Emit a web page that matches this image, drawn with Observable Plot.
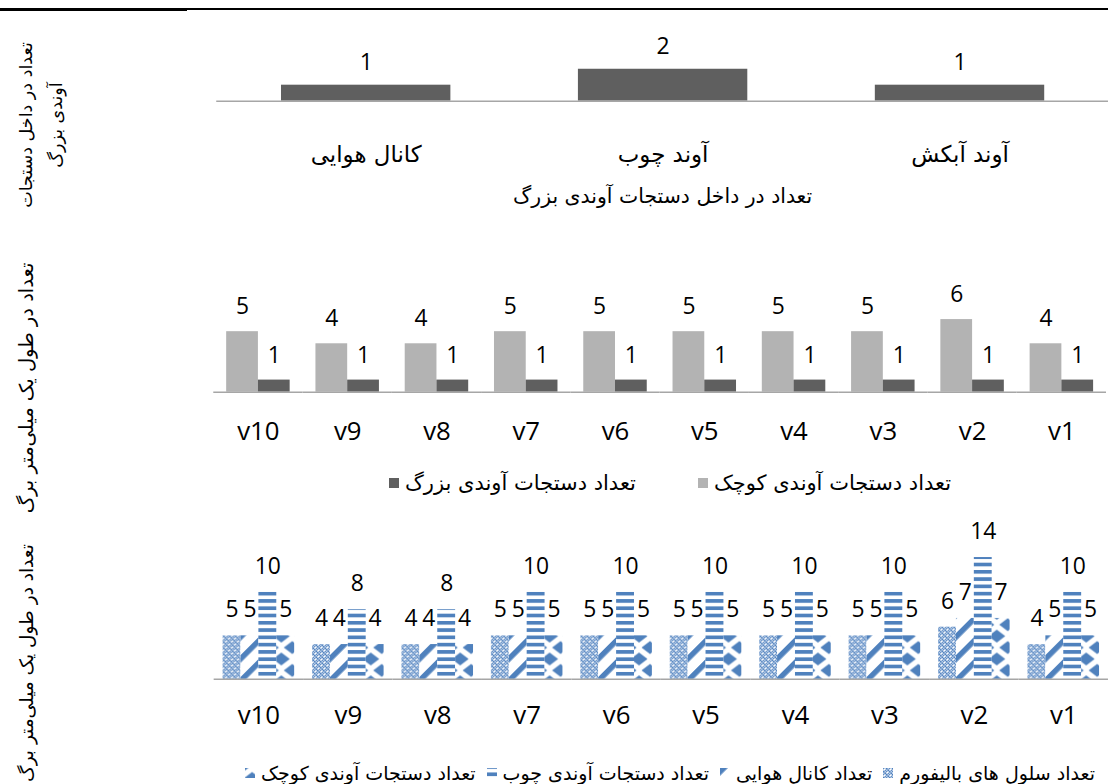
<!DOCTYPE html>
<html><head><meta charset="utf-8">
<script src="https://cdn.jsdelivr.net/npm/d3@7"></script>
<script src="https://cdn.jsdelivr.net/npm/@observablehq/plot@0.6"></script>
<style>
body{margin:0;background:#fff;overflow:hidden}
#root{position:relative;width:1108px;height:784px;overflow:hidden;background:#fff}
.chart{position:absolute;left:0}
.ytitle{position:absolute;transform:translate(-50%,-50%) rotate(-90deg);white-space:pre;text-align:center;direction:rtl;font-family:"DejaVu Sans",sans-serif;font-size:17px;line-height:30px;color:#000}
.legend{position:absolute;display:flex;justify-content:center;align-items:center;direction:rtl;font-family:"DejaVu Sans",sans-serif;color:#000;transform:translateY(-50%)}
.item{display:flex;align-items:center;direction:rtl;white-space:nowrap}
.item svg{display:block}
</style></head>
<body>
<svg width="0" height="0" style="position:absolute">
<defs>
<pattern id="pDots" patternUnits="userSpaceOnUse" width="6" height="6">
  <rect width="6" height="6" fill="#b7cce8"/>
  <rect x="0" y="0" width="1.5" height="1.5" fill="#4f81bd"/>
  <rect x="3" y="0" width="1.5" height="1.5" fill="#4f81bd"/>
  <rect x="1.5" y="1.5" width="1.5" height="1.5" fill="#4f81bd"/>
  <rect x="4.5" y="1.5" width="1.5" height="1.5" fill="#4f81bd"/>
  <rect x="0" y="3" width="1.5" height="1.5" fill="#4f81bd"/>
  <rect x="3" y="3" width="1.5" height="1.5" fill="#4f81bd"/>
  <rect x="1.5" y="4.5" width="1.5" height="1.5" fill="#4f81bd"/>
  <rect x="4.5" y="4.5" width="1.5" height="1.5" fill="#4f81bd"/>
  <circle cx="1.5" cy="1.5" r="1.1" fill="#fff"/>
  <circle cx="4.5" cy="4.5" r="1.1" fill="#fff"/>
</pattern>
<pattern id="pDiag" patternUnits="userSpaceOnUse" width="15.6" height="15.6" patternTransform="rotate(-45)">
  <rect width="15.6" height="15.6" fill="#fff"/>
  <rect width="15.6" height="5.5" fill="#4f81bd"/>
</pattern>
<pattern id="pStripe" patternUnits="userSpaceOnUse" width="10" height="7.33" patternTransform="translate(0,4.44)">
  <rect width="10" height="7.33" fill="#fff"/>
  <rect width="10" height="3.7" fill="#4f81bd"/>
</pattern>
<pattern id="pDiamond" patternUnits="userSpaceOnUse" width="22" height="23" patternTransform="translate(7.1,10.5)">
  <rect width="22" height="23" fill="#fff"/>
  <path d="M0,-6.5 L8.5,0 L0,6.5 L-8.5,0 Z M22,-6.5 L30.5,0 L22,6.5 L13.5,0 Z M0,16.5 L8.5,23 L0,29.5 L-8.5,23 Z M22,16.5 L30.5,23 L22,29.5 L13.5,23 Z" fill="#4f81bd"/>
  <path d="M11,5 L19.5,11.5 L11,18 L2.5,11.5 Z" fill="#4f81bd"/>
</pattern>
</defs>
</svg>
<div id="root">
  <div style="position:absolute;left:0;top:8px;width:1108px;height:2px;background:#000"></div>
  <div style="position:absolute;left:0;top:8px;width:187px;height:3px;background:#000"></div>
</div>
<script>
// ---------- data ----------
const bigCategories = ["کانال هوایی", "آوند چوب", "آوند آبکش"];
const bigValues = [1, 2, 1];
const bigTitle = "تعداد در داخل دستجات آوندی بزرگ";
const yTitle1 = "تعداد در داخل دستجات\nآوندی بزرگ";
const yTitle23 = "تعداد در طول یک میلی‌متر برگ";

const samples = ["v10", "v9", "v8", "v7", "v6", "v5", "v4", "v3", "v2", "v1"];

const series2 = ["تعداد دستجات آوندی کوچک", "تعداد دستجات آوندی بزرگ"];
const smallBundles2 = [5, 4, 4, 5, 5, 5, 5, 5, 6, 4];
const largeBundles2 = [1, 1, 1, 1, 1, 1, 1, 1, 1, 1];

const series3 = ["تعداد سلول های بالیفورم", "تعداد کانال هوایی", "تعداد دستجات آوندی چوب", "تعداد دستجات آوندی کوچک"];
const bulliformCells = [5, 4, 4, 5, 5, 5, 5, 5, 6, 4];
const airChannels = [5, 4, 4, 5, 5, 5, 5, 5, 7, 5];
const xylemBundles = [10, 8, 8, 10, 10, 10, 10, 10, 14, 10];
const smallBundles3 = [5, 4, 4, 5, 5, 5, 5, 5, 7, 5];

// ---------- styles ----------
const FA = "'DejaVu Sans', sans-serif";
const NUM = "'Open Sans', 'DejaVu Sans', sans-serif";
const VAL = 23, CAT = 26;
const colors2 = ["#b3b3b3", "#5f5f5f"];
const fills3 = ["url(#pDots)", "url(#pDiag)", "url(#pStripe)", "url(#pDiamond)"];
const svgStyle = {background: "transparent", overflow: "visible"};

const root = document.getElementById("root");
function place(node, top) {
  node.classList.add("chart");
  node.style.top = top + "px";
  root.appendChild(node);
}

// ---------- chart 1 ----------
const rows1 = bigCategories.map((c, i) => ({c, v: bigValues[i]}));
const chart1 = Plot.plot({
  width: 1112, height: 215,
  marginLeft: 217, marginRight: 0, marginTop: 0, marginBottom: 0,
  style: svgStyle,
  x: {domain: bigCategories, paddingInner: 0.43, paddingOuter: 0.215, axis: null},
  y: {domain: [0, 2], range: [101, 69], axis: null},
  marks: [
    Plot.barY(rows1, {x: "c", y: "v", fill: "#5f5f5f"}),
    Plot.ruleY([0], {stroke: "#a6a6a6", strokeWidth: 1.5}),
    Plot.text(rows1, {x: "c", y: "v", text: d => String(d.v), dy: -23, fontSize: VAL, fontFamily: NUM, fill: "#000"}),
    Plot.text(rows1, {x: "c", y: 0, text: "c", dy: 54, fontSize: 23, fontFamily: FA, fill: "#000"}),
    Plot.text([bigTitle], {y: 0, text: d => d, dy: 96, fontSize: 20.5, fontFamily: FA, fill: "#000"})
  ]
});
place(chart1, 0);

// ---------- chart 2 ----------
const rows2 = samples.flatMap((s, i) => [
  {cat: s, s: series2[0], v: smallBundles2[i]},
  {cat: s, s: series2[1], v: largeBundles2[i]}
]);
const chart2 = Plot.plot({
  width: 1117, height: 230,
  marginLeft: 212, marginRight: 0, marginTop: 0, marginBottom: 0,
  style: svgStyle,
  fx: {domain: samples, paddingInner: 0, paddingOuter: 0, axis: null, label: null},
  x: {domain: series2, paddingInner: 0, paddingOuter: 0.371, axis: null},
  y: {domain: [0, 6], range: [163, 89.8], axis: null},
  color: {domain: series2, range: colors2},
  marks: [
    Plot.barY(rows2, {fx: "cat", x: "s", y: "v", fill: "s"}),
    Plot.ruleY([0], {stroke: "#a6a6a6", strokeWidth: 1.5}),
    Plot.text(rows2, {fx: "cat", x: "s", y: "v", text: d => String(d.v), dy: -25, fontSize: VAL, fontFamily: NUM, fill: "#000"}),
    Plot.text(samples, {fx: d => d, y: 0, text: d => d, dy: 40, fontSize: CAT, fontFamily: NUM, fill: "#000"})
  ]
});
place(chart2, 230);

// ---------- chart 3 ----------
const vals3 = [bulliformCells, airChannels, xylemBundles, smallBundles3];
const rows3 = samples.flatMap((s, i) => series3.map((name, k) => ({cat: s, s: name, v: vals3[k][i]})));
const chart3 = Plot.plot({
  width: 1115, height: 284,
  marginLeft: 214, marginRight: 0, marginTop: 0, marginBottom: 0,
  style: svgStyle,
  fx: {domain: samples, paddingInner: 0, paddingOuter: 0, axis: null, label: null},
  x: {domain: series3, paddingInner: 0, paddingOuter: 0.40, axis: null},
  y: {domain: [0, 14], range: [180, 57.4], axis: null},
  color: {domain: series3, range: fills3},
  marks: [
    Plot.barY(rows3, {fx: "cat", x: "s", y: "v", fill: "s"}),
    Plot.ruleY([0], {stroke: "#a6a6a6", strokeWidth: 1.5}),
    Plot.text(rows3, {fx: "cat", x: "s", y: "v", text: d => String(d.v), dy: -26, fontSize: VAL, fontFamily: NUM, fill: "#000"}),
    Plot.text(samples, {fx: d => d, y: 0, text: d => d, dy: 37, fontSize: CAT, fontFamily: NUM, fill: "#000"})
  ]
});
place(chart3, 500);

// ---------- axis titles ----------
function ytitle(text, x, y, size) {
  const d = document.createElement("div");
  d.className = "ytitle";
  d.textContent = text;
  d.style.left = x + "px";
  d.style.top = y + "px";
  if (size) d.style.fontSize = size + "px";
  root.appendChild(d);
}
ytitle(yTitle1, 41, 125, 17.5);
ytitle(yTitle23, 27, 388, 19.5);
ytitle(yTitle23, 27, 663, 18.5);

// ---------- legends ----------
function legend(names, fills, centerY, fontSize, itemGap, swGap) {
  const L = document.createElement("div");
  L.className = "legend";
  L.style.left = "215px";
  L.style.width = "910px";
  L.style.top = centerY + "px";
  L.style.fontSize = fontSize + "px";
  L.style.gap = itemGap + "px";
  names.forEach((n, i) => {
    const it = document.createElement("div");
    it.className = "item";
    it.style.gap = swGap + "px";
    const t = document.createElement("span");
    t.textContent = n;
    it.appendChild(t);
    const sw = document.createElementNS("http://www.w3.org/2000/svg", "svg");
    sw.setAttribute("width", 10); sw.setAttribute("height", 10);
    const r = document.createElementNS("http://www.w3.org/2000/svg", "rect");
    r.setAttribute("width", 10); r.setAttribute("height", 10);
    r.setAttribute("fill", fills[i]);
    sw.appendChild(r);
    it.appendChild(sw);
    L.appendChild(it);
  });
  root.appendChild(L);
}
legend(series2, colors2, 483, 21, 62, 6);
legend(series3, fills3, 773, 19, 11, 6);
</script>
</body></html>
